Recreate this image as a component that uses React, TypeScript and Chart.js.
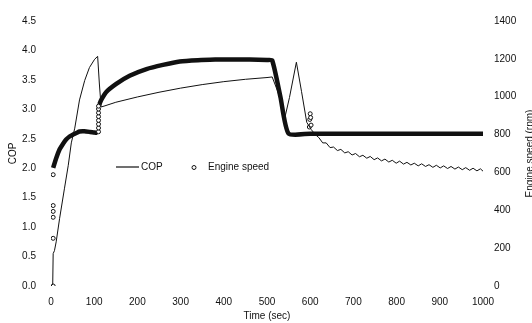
import React, { useEffect, useRef } from "react";
import { Chart, registerables } from "chart.js";

Chart.register(...registerables);

// ---- data ----
const copTime = [
  0, 4, 5, 8, 12, 20, 31, 40, 47, 55, 66, 78, 89, 101, 108, 112, 116, 125, 150, 200,
  250, 300, 350, 400, 450, 500, 512, 525, 542, 552, 568, 580, 592, 602, 612,
  620, 629, 637, 646, 654, 663, 671, 680, 688, 697, 705, 714, 722, 731, 739, 748, 756,
  765, 773, 782, 790, 799, 807, 816, 824, 833, 841, 850, 858, 867, 875, 884, 892, 901,
  909, 918, 926, 935, 943, 952, 960, 969, 977, 986, 994, 1000,
];
const copValue = [
  0, 0.03, 0.55, 0.6, 0.75, 1.15, 1.65, 2.05, 2.43, 2.68, 3.16, 3.49, 3.71, 3.85, 3.9, 3.43, 3.04, 3.06, 3.12, 3.21,
  3.29, 3.36, 3.42, 3.47, 3.51, 3.54, 3.55, 3.3, 2.88, 3.2, 3.8, 3.3, 2.78, 2.66, 2.57,
  2.52, 2.43, 2.43, 2.35, 2.36, 2.3, 2.32, 2.26, 2.28, 2.225, 2.25, 2.195, 2.22, 2.17, 2.2, 2.145, 2.175,
  2.125, 2.155, 2.105, 2.135, 2.085, 2.12, 2.07, 2.1, 2.055, 2.085, 2.04, 2.075, 2.03, 2.06, 2.015, 2.05, 2.005,
  2.04, 1.995, 2.03, 1.985, 2.02, 1.975, 2.01, 1.965, 2.0, 1.955, 1.99, 1.95,
];

// Engine speed: dense markers that form the heavy trace
const speedTraceTime = [
  5, 12, 20, 28, 35, 43, 51, 60, 66, 77, 90, 100, 108, 110.5, 112, 116, 128, 151, 182, 221,
  259, 298, 340, 380, 420, 460, 500, 512, 531, 550, 600, 700, 800, 900, 1000,
];
const speedTraceRpm: (number | null)[] = [
  624, 675, 722, 752, 774, 790, 800, 810, 816, 817, 814, 811, 809, null, 960, 982, 1025, 1068, 1111, 1146,
  1168, 1186, 1193, 1196, 1197, 1196, 1194, 1192, 1000, 805, 805, 805, 805, 805, 805,
];
// Engine speed: individual open circles
const speedMarkTime = [5, 5, 5, 5, 5, 5, 110, 110, 110, 110, 110, 110, 110, 110, 598, 599, 600, 601, 602];
const speedMarkRpm = [0, 252, 363, 394, 425, 588, 815, 835, 855, 875, 895, 915, 935, 950, 840, 880, 910, 890, 850];

const xTitle = "Time (sec)";
const yTitle = "COP";
const y1Title = "Engine speed (rpm)";
const seriesNames = ["COP", "Engine speed"];

const FONT = '"Liberation Sans", Arial, Helvetica, sans-serif';
const INK = "#111";

const overlayPlugin = {
  id: "overlay",
  afterDraw(chart: any) {
    const { ctx, chartArea } = chart;
    ctx.save();
    ctx.fillStyle = INK;
    ctx.strokeStyle = INK;
    ctx.font = `10px ${FONT}`;
    ctx.textBaseline = "middle";
    ctx.textAlign = "left";
    // legend inside the plot
    const ly = chartArea.top + 146;
    const lx = chartArea.left + 65;
    ctx.lineWidth = 1.2;
    ctx.beginPath();
    ctx.moveTo(lx, ly);
    ctx.lineTo(lx + 23, ly);
    ctx.stroke();
    ctx.fillText(chart.data.datasets[0].label, lx + 25, ly);
    ctx.beginPath();
    ctx.arc(lx + 78, ly + 0.5, 2, 0, Math.PI * 2);
    ctx.fillStyle = "#fff";
    ctx.fill();
    ctx.lineWidth = 1;
    ctx.stroke();
    ctx.fillStyle = INK;
    ctx.fillText(chart.data.datasets[1].label, lx + 92, ly);
    // right axis title, reading bottom-to-top
    const y1 = chart.scales.y1;
    ctx.translate(y1.right + 1, (chartArea.top + chartArea.bottom) / 2);
    ctx.rotate(-Math.PI / 2);
    ctx.textAlign = "center";
    ctx.textBaseline = "alphabetic";
    ctx.fillText(y1Title, 0, 0);
    ctx.restore();
  },
};

export default function App() {
  const ref = useRef<HTMLCanvasElement | null>(null);
  useEffect(() => {
    if (!ref.current) return;
    const tickFont = { family: FONT, size: 10 };
    const chart = new Chart(ref.current, {
      type: "line",
      data: {
        datasets: [
          {
            label: seriesNames[0],
            data: copTime.map((t, i) => ({ x: t, y: copValue[i] })),
            yAxisID: "y",
            borderColor: INK,
            borderWidth: 1,
            pointRadius: 0,
            tension: 0,
          },
          {
            label: seriesNames[1],
            data: speedMarkTime.map((t, i) => ({ x: t, y: speedMarkRpm[i] })),
            yAxisID: "y1",
            showLine: false,
            pointStyle: "circle",
            pointRadius: 2,
            pointBorderWidth: 1,
            pointBackgroundColor: "#fff",
            pointBorderColor: INK,
          },
          {
            label: seriesNames[1] + " trace",
            data: speedTraceTime.map((t, i) => ({ x: t, y: speedTraceRpm[i] })),
            yAxisID: "y1",
            borderColor: INK,
            borderWidth: 4.5,
            pointRadius: 0,
            tension: 0.2,
            spanGaps: false,
          },
        ],
      },
      options: {
        responsive: false,
        animation: false,
        layout: { padding: { top: 16, left: 0, right: 0, bottom: 0 } },
        plugins: { legend: { display: false }, tooltip: { enabled: false } },
        scales: {
          x: {
            type: "linear",
            min: 0,
            max: 1000,
            grid: { display: false, drawTicks: false },
            border: { display: false },
            ticks: { stepSize: 100, color: INK, font: tickFont, padding: 10, maxRotation: 0, callback: (v: any) => String(v) },
            title: { display: true, text: xTitle, color: INK, font: { family: FONT, size: 10 }, padding: { top: 0, bottom: 1 } },
            afterFit: (s: any) => { s.height = 37; },
          },
          y: {
            type: "linear",
            position: "left",
            min: 0,
            max: 4.5,
            grid: { display: false, drawTicks: false },
            border: { display: false },
            ticks: { stepSize: 0.5, color: INK, font: tickFont, padding: 15, callback: (v: any) => Number(v).toFixed(1) },
            title: { display: true, text: yTitle, color: INK, font: { family: FONT, size: 10 }, padding: { top: 7.5, bottom: 0 } },
            afterFit: (s: any) => { s.width = 51; },
          },
          y1: {
            type: "linear",
            position: "right",
            min: 0,
            max: 1400,
            grid: { display: false, drawTicks: false },
            border: { display: false },
            ticks: { stepSize: 200, color: INK, font: tickFont, padding: 11, callback: (v: any) => String(v) },
            afterFit: (s: any) => { s.width = 49; },
          },
        },
      },
      plugins: [overlayPlugin],
    });
    return () => chart.destroy();
  }, []);
  return (
    <div style={{ position: "fixed", left: 0, top: 0, width: 532, height: 323, background: "#fff" }}>
      <canvas ref={ref} width={532} height={323} style={{ display: "block" }} />
    </div>
  );
}
